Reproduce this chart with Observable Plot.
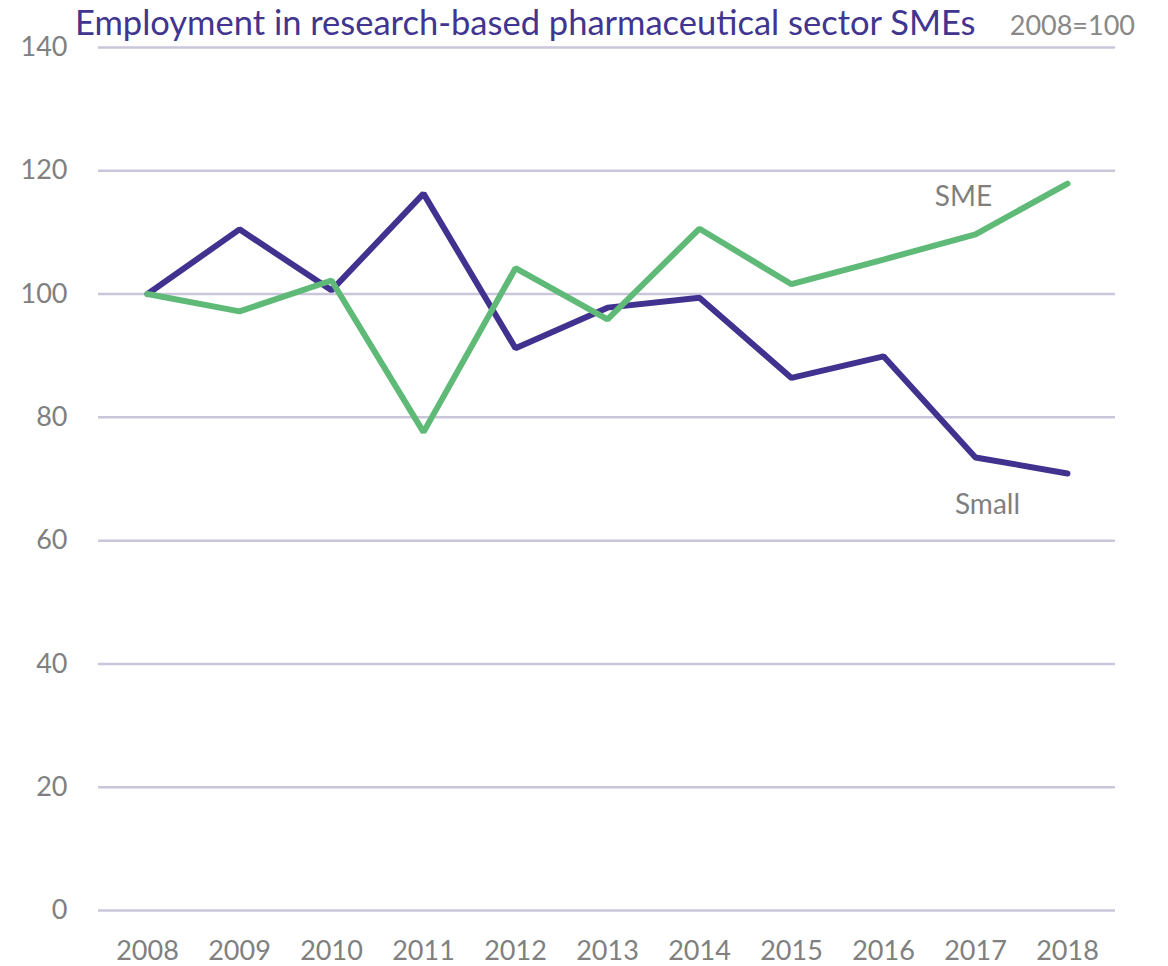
<!DOCTYPE html>
<html><head><meta charset="utf-8">
<script src="https://cdn.jsdelivr.net/npm/d3@7"></script>
<script src="https://cdn.jsdelivr.net/npm/@observablehq/plot@0.6"></script>
<style>
body{margin:0;background:#fff;font-family:Lato, sans-serif;}
#wrap{position:relative;width:1168px;height:966px;}
#title{position:absolute;left:75px;top:0px;font-size:34.5px;line-height:44px;color:#41358f;white-space:nowrap;font-family:Lato, sans-serif;}
#sub{position:absolute;right:33px;top:9px;font-size:27px;line-height:32px;color:#888;font-family:Lato, sans-serif;}
</style></head><body>
<div id="wrap"><div id="chart"></div>
<div id="title">Employment in research-based pharmaceutical sector SMEs</div>
<div id="sub">2008=100</div></div>
<script>
const years = [2008, 2009, 2010, 2011, 2012, 2013, 2014, 2015, 2016, 2017, 2018];
const smallValues = [100, 110.5, 100.6, 116.3, 91.2, 97.8, 99.4, 86.4, 89.9, 73.5, 70.9];
const smeValues = [100, 97.2, 102.2, 77.6, 104.2, 95.9, 110.6, 101.6, 105.6, 109.7, 117.9];
const seriesNames = ["Small", "SME"];
const seriesColors = ["#41328f", "#5fba77"];
const yTicks = [0, 20, 40, 60, 80, 100, 120, 140];
const labelNames = ["SME", "Small"];
const labelYears = [2017, 2017];
const labelValues = [115.8, 65.7];

const data = [];
years.forEach((y, i) => {
  data.push({year: y, value: smallValues[i], series: "Small"});
  data.push({year: y, value: smeValues[i], series: "SME"});
});
const labels = labelNames.map((n, i) => ({name: n, year: labelYears[i], value: labelValues[i]}));

const chart = Plot.plot({
  width: 1168, height: 966,
  marginTop: 47, marginBottom: 56, marginLeft: 98, marginRight: 53,
  style: {fontFamily: "Lato, sans-serif", fontSize: "27px", color: "#808080", background: "white", overflow: "visible"},
  x: {type: "point", domain: years, padding: 0.5, label: null},
  y: {domain: [0, 140], label: null},
  color: {domain: seriesNames, range: seriesColors},
  marks: [
    Plot.ruleY(yTicks, {stroke: "#c9c6dc", strokeWidth: 2.5}),
    Plot.axisY(yTicks, {tickSize: 0, tickPadding: 31, label: null, fontSize: 27}),
    Plot.axisX(years, {tickSize: 0, tickPadding: 30, label: null, fontSize: 27, tickFormat: d => String(d)}),
    Plot.line(data, {x: "year", y: "value", z: "series", stroke: "series", strokeWidth: 6, strokeLinejoin: "miter"}),
    Plot.text(labels.filter(d => d.name === "SME"), {x: "year", y: "value", text: "name", fontSize: 28, fill: "#7f7f7f", dx: -12}),
    Plot.text(labels.filter(d => d.name === "Small"), {x: "year", y: "value", text: "name", fontSize: 28, fill: "#7f7f7f", dx: 12})
  ]
});
document.getElementById("chart").appendChild(chart);
</script>
</body></html>
